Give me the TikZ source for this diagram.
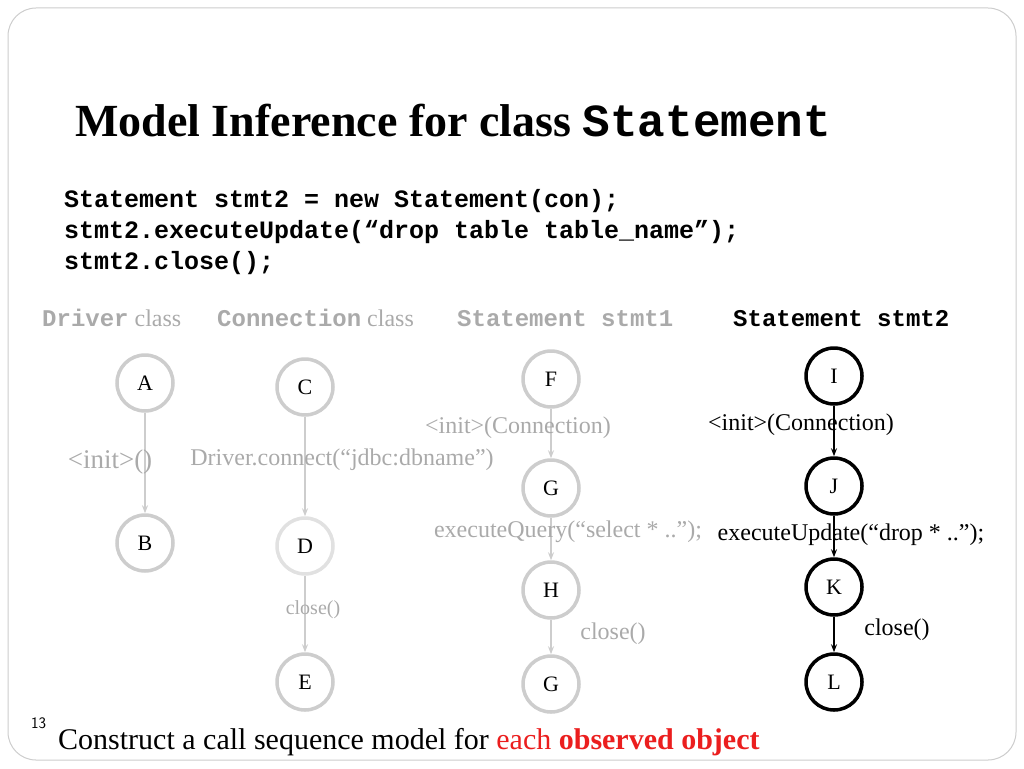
\documentclass[tikz,border=0pt]{standalone}
\usepackage{fontspec}
\setmainfont{Liberation Serif}
\setmonofont{Liberation Mono}
\usetikzlibrary{arrows.meta}
\definecolor{dimgray}{RGB}{170,170,170}
\definecolor{faintgray}{RGB}{205,205,205}
\definecolor{redtext}{RGB}{235,30,30}
\tikzset{
  state/.style={circle,minimum size=56pt,inner sep=0pt,line width=3.5pt,draw=faintgray,fill=white,text=black,font=\fontsize{22}{24}\selectfont},
  activestate/.style={state,draw=black},
  call/.style={-{Stealth[length=8pt]},line width=2pt,draw=faintgray},
  activecall/.style={call,draw=black},
  callname/.style={font=\fontsize{24}{26}\selectfont,text=dimgray,inner sep=1pt},
  header/.style={font=\fontsize{24}{26}\selectfont,text=dimgray,anchor=base west,inner sep=0pt},
  codeline/.style={anchor=base west,inner sep=0pt,font=\fontsize{25}{27}\selectfont\ttfamily\bfseries},
}
\begin{document}
\begin{tikzpicture}[x=1pt,y=-1pt]
\useasboundingbox (0,0) rectangle (1024,768);
\draw[draw=faintgray,line width=1pt,rounded corners=28pt] (8,8) rectangle (1016,760);
% title and code
\node[anchor=base west,inner sep=0pt,font=\fontsize{46}{48}\selectfont\bfseries] (title) at (75,136) {Model Inference for class \texttt{Statement}};
\node[codeline] (code1) at (64,207) {Statement stmt2 =  new Statement(con);};
\node[codeline] (code2) at (64,238) {stmt2.executeUpdate(“drop table table\_name”);};
\node[codeline] (code3) at (64,269) {stmt2.close();};
% column headers
\node[header] (hdriver) at (42,326) {\texttt{\bfseries Driver} class};
\node[header] (hconn) at (217,326) {\texttt{\bfseries Connection} class};
\node[header] (hstmt1) at (457,326) {\texttt{\bfseries Statement stmt1}};
\node[header,text=black] (hstmt2) at (733,326) {\texttt{\bfseries Statement stmt2}};
% Driver class
\node[state] (A) at (145,383) {A};
\node[state] (B) at (145,543) {B};
\draw[call] (A) -- (B);
\node[callname,font=\fontsize{27}{29}\selectfont] (lab1) at (110,462) {<init>()};
% Connection class
\node[state] (C) at (305,387) {C};
\node[state,draw=faintgray!60] (D) at (305,546) {D};
\node[state] (E) at (305,682) {E};
\draw[call] (C) -- (D);
\draw[call] (D) -- (E);
\node[callname] (lab2) at (342,460) {Driver.connect(“jdbc:dbname”)};
\node[callname,font=\fontsize{20}{22}\selectfont] (lab3) at (313,610) {close()};
% Statement stmt1
\node[state] (F) at (551,379) {F};
\node[state] (G1) at (551,488) {G};
\node[state] (H) at (551,590) {H};
\node[state] (G2) at (551,684) {G};
\draw[call] (F) -- (G1);
\draw[call] (G1) -- (H);
\draw[call] (H) -- (G2);
\node[callname] (lab4) at (518,428) {<init>(Connection)};
\node[callname] (lab5) at (568,532) {executeQuery(“select * ..”);};
\node[callname] (lab6) at (613,634) {close()};
% Statement stmt2
\node[activestate] (I) at (834,376) {I};
\node[activestate] (J) at (834,486) {J};
\node[activestate] (K) at (834,587) {K};
\node[activestate] (L) at (834,682) {L};
\draw[activecall] (I) -- (J);
\draw[activecall] (J) -- (K);
\draw[activecall] (K) -- (L);
\node[callname,text=black] (lab7) at (801,425) {<init>(Connection)};
\node[callname,text=black] (lab8) at (851,535) {executeUpdate(“drop * ..”);};
\node[callname,text=black] (lab9) at (897,630) {close()};
% footer
\node[anchor=base west,inner sep=0pt,font=\sffamily\fontsize{16}{18}\selectfont] (pagenum) at (31,728) {13};
\node[anchor=base west,inner sep=0pt,font=\fontsize{30}{32}\selectfont] (footer) at (58,749)
  {Construct a call sequence model for \textcolor{redtext}{each \textbf{observed object}}};
\end{tikzpicture}
\end{document}
